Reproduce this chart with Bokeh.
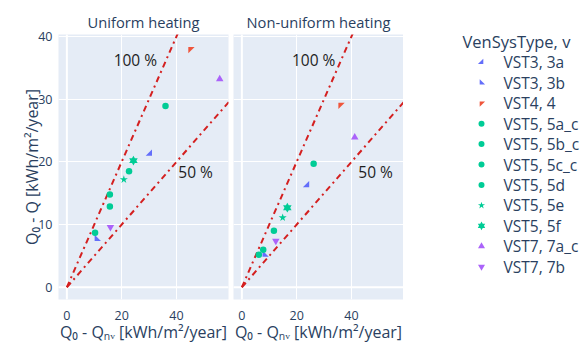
from bokeh.plotting import figure
from bokeh.layouts import row
from bokeh.models import FixedTicker, Range1d, CustomJS, Span
from bokeh.core.properties import value
from bokeh.embed import file_html
from bokeh.resources import INLINE

# ---------------- data ----------------
series_names = ["VST3, 3a", "VST3, 3b", "VST4, 4", "VST5, 5a_c", "VST5, 5b_c",
                "VST5, 5c_c", "VST5, 5d", "VST5, 5e", "VST5, 5f", "VST7, 7a_c", "VST7, 7b"]
series_colors = ["#636EFA", "#636EFA", "#EF553B", "#00CC96", "#00CC96", "#00CC96",
                 "#00CC96", "#00CC96", "#00CC96", "#AB63FA", "#AB63FA"]
series_markers = ["@tri_se", "@tri_sw", "@tri_nw", "circle", "circle", "circle",
                  "circle", "star", "@hexagram", "triangle", "inverted_triangle"]

uniform_series = ["VST3, 3a", "VST3, 3b", "VST4, 4", "VST5, 5a_c", "VST5, 5b_c",
                  "VST5, 5c_c", "VST5, 5c_c", "VST5, 5d", "VST5, 5e", "VST5, 5f",
                  "VST7, 7a_c", "VST7, 7b"]
uniform_x = [30.3, 10.9, 45.1, 36.0, 22.7, 15.7, 15.7, 10.3, 20.8, 24.3, 55.8, 15.9]
uniform_y = [21.3, 7.7, 38.0, 28.9, 18.5, 14.8, 12.9, 8.7, 17.2, 20.2, 33.2, 9.6]

nonuniform_series = ["VST3, 3a", "VST3, 3b", "VST4, 4", "VST5, 5a_c", "VST5, 5b_c",
                     "VST5, 5c_c", "VST5, 5d", "VST5, 5e", "VST5, 5f",
                     "VST7, 7a_c", "VST7, 7b"]
nonuniform_x = [23.8, 8.3, 36.0, 26.2, 11.7, 7.8, 6.2, 14.9, 16.6, 41.2, 12.4]
nonuniform_y = [16.3, 5.2, 29.1, 19.7, 9.0, 6.0, 5.2, 11.1, 12.7, 23.9, 7.4]

ref_ratios = [1.0, 0.5]
ref_labels = ["100 %", "50 %"]
ref_line_x = [0, 60]
uniform_label_x = [25.0, 47.0]
uniform_label_y = [36.3, 18.4]
nonuniform_label_x = [26.2, 48.8]
nonuniform_label_y = [36.3, 18.4]

x_ticks = [0, 20, 40]
y_ticks = [0, 10, 20, 30, 40]
panel_titles = ["Uniform heating", "Non-uniform heating"]
x_title = "Q\u2080 - Q\u2099\u1d65 [kWh/m\u00b2/year]"
y_title = "Q\u2080 - Q [kWh/m\u00b2/year]"
legend_title = "VenSysType, v"

# ---------------- styles ----------------
FONT = "Open Sans"
TXT = "#2a3f5f"
BG = "#E5ECF6"
LINE_RED = "#d42020"
H = 345
MB_TOP = 34
MB_BOTTOM = 44


def shape_js(pts_expr):
    return CustomJS(code="""
export default (args, obj, {ctx, i, r, visuals}) => {
  const pts = %s
  ctx.beginPath()
  ctx.moveTo(pts[0][0], pts[0][1])
  for (let k = 1; k < pts.length; k++) ctx.lineTo(pts[k][0], pts[k][1])
  ctx.closePath()
  visuals.fill.apply(ctx, i)
  visuals.line.apply(ctx, i)
}
""" % pts_expr)


marker_defs = {
    "@tri_se": shape_js("[[0.6*r, -1.2*r], [0.6*r, 0.6*r], [-1.2*r, 0.6*r]]"),
    "@tri_sw": shape_js("[[1.2*r, 0.6*r], [-0.6*r, 0.6*r], [-0.6*r, -1.2*r]]"),
    "@tri_nw": shape_js("[[-0.6*r, 1.2*r], [-0.6*r, -0.6*r], [1.2*r, -0.6*r]]"),
    "@hexagram": shape_js(
        "(() => { const y = 0.66*r, a = 0.38*r, b = 0.76*r; return ["
        "[-b, 0], [-b-a, -y], [-a, -y], [0, -2*y], [a, -y], [a+b, -y], [b, 0],"
        "[a+b, y], [a, y], [0, 2*y], [-a, y], [-a-b, y]] })()"),
}
marker_sizes = {"circle": 6.5, "star": 8.5, "triangle": 7.5, "inverted_triangle": 7.5,
                "@tri_se": 7, "@tri_sw": 7, "@tri_nw": 7, "@hexagram": 7.5}
legend_sizes = {"circle": 6, "star": 7.5, "triangle": 7, "inverted_triangle": 7,
                "@tri_se": 6, "@tri_sw": 6, "@tri_nw": 6, "@hexagram": 6.5}

y_range = Range1d(-1.95, 40.32)


def add_marker(p, x, y, mk, size, col):
    kw = {}
    if mk.startswith("@"):
        kw["defs"] = {mk: marker_defs[mk]}
    return p.scatter(x, y, marker=value(mk), size=size, fill_color=col,
                     line_color=None, **kw)


def make_panel(title, xs, ys, sers, lab_x, lab_y, first, width, mb_left, mb_right):
    p = figure(width=width, height=H, x_range=Range1d(-3.05, 59.0), y_range=y_range,
               output_backend="svg", toolbar_location=None,
               background_fill_color=BG, border_fill_color="white",
               outline_line_color=None, min_border_left=mb_left,
               min_border_right=mb_right, min_border_top=MB_TOP,
               min_border_bottom=MB_BOTTOM)
    p.title.text = title
    p.title.align = "center"
    p.title.text_font = FONT
    p.title.text_font_size = "14.7px"
    p.title.text_font_style = "normal"
    p.title.text_color = TXT
    p.title.standoff = 6

    p.xaxis.ticker = FixedTicker(ticks=x_ticks)
    p.yaxis.ticker = FixedTicker(ticks=y_ticks)
    p.xgrid.ticker = FixedTicker(ticks=x_ticks)
    p.ygrid.ticker = FixedTicker(ticks=y_ticks)
    for ax in (p.xaxis, p.yaxis):
        ax.axis_line_color = None
        ax.major_tick_line_color = None
        ax.minor_tick_line_color = None
        ax.major_label_text_font = FONT
        ax.major_label_text_font_size = "12.5px"
        ax.major_label_text_color = TXT
        ax.axis_label_text_font = FONT
        ax.axis_label_text_font_size = "16px"
        ax.axis_label_text_font_style = "normal"
        ax.axis_label_text_color = TXT
    p.xaxis.axis_label = x_title
    p.xaxis.major_label_standoff = 5
    p.xaxis.axis_label_standoff = -2
    if first:
        p.yaxis.axis_label = y_title
        p.yaxis.major_label_standoff = 0
        p.yaxis.axis_label_standoff = -8
    else:
        p.yaxis.visible = False
    p.grid.grid_line_color = "white"
    p.grid.grid_line_width = 1
    p.add_layout(Span(location=0, dimension="height", line_color="white",
                      line_width=2, level="underlay"))
    p.add_layout(Span(location=0, dimension="width", line_color="white",
                      line_width=2, level="underlay"))

    for ratio in ref_ratios:
        p.line(ref_line_x, [ratio * v for v in ref_line_x], line_color=LINE_RED,
               line_width=2, line_dash="6 4 2 4")

    p.text(x=lab_x, y=lab_y, text=ref_labels, text_font=value(FONT),
           text_font_size="15.5px", text_color="#1e1e1e", text_align="center",
           text_baseline="middle")

    for name, col, mk in zip(series_names, series_colors, series_markers):
        idx = [k for k, s in enumerate(sers) if s == name]
        add_marker(p, [xs[k] for k in idx], [ys[k] for k in idx], mk,
                   marker_sizes[mk], col)
    return p


p1 = make_panel(panel_titles[0], uniform_x, uniform_y, uniform_series,
                uniform_label_x, uniform_label_y, True, 230, 58, 2)
p2 = make_panel(panel_titles[1], nonuniform_x, nonuniform_y, nonuniform_series,
                nonuniform_label_x, nonuniform_label_y, False, 173, 3, 0)

# ---------------- legend (own panel) ----------------
LEG_W = 182
LEG_TITLE_X = 59
LEG_SYM_X = 78
LEG_LABEL_X = 100
LEG_PITCH = 20.6
LEG_FIRST = 28  # px from top of the frame to the first row
frame_h = H - MB_TOP - MB_BOTTOM
top_v = -LEG_FIRST / LEG_PITCH
p3 = figure(width=LEG_W, height=H, x_range=Range1d(0, LEG_W),
            y_range=Range1d(top_v + frame_h / LEG_PITCH, top_v), title=None,
            output_backend="svg", toolbar_location=None, min_border_left=0,
            min_border_right=0, min_border_top=MB_TOP, min_border_bottom=MB_BOTTOM,
            outline_line_color=None, border_fill_color="white",
            background_fill_color="white")
p3.axis.visible = False
p3.grid.visible = False
leg_rows = list(range(len(series_names)))
for k, (name, col, mk) in enumerate(zip(series_names, series_colors, series_markers)):
    add_marker(p3, [LEG_SYM_X], [leg_rows[k]], mk, legend_sizes[mk], col)
p3.text(x=LEG_LABEL_X, y=leg_rows, text=series_names, text_font=value(FONT),
        text_font_size="15.5px", text_color=TXT, text_align="left",
        text_baseline="middle")
p3.text(x=[LEG_TITLE_X], y=[-1], text=[legend_title], text_font=value(FONT),
        text_font_size="16.5px", text_color=TXT, text_align="left",
        text_baseline="middle")

layout = row(p1, p2, p3)
open("out.html", "w").write(file_html(layout, INLINE))
